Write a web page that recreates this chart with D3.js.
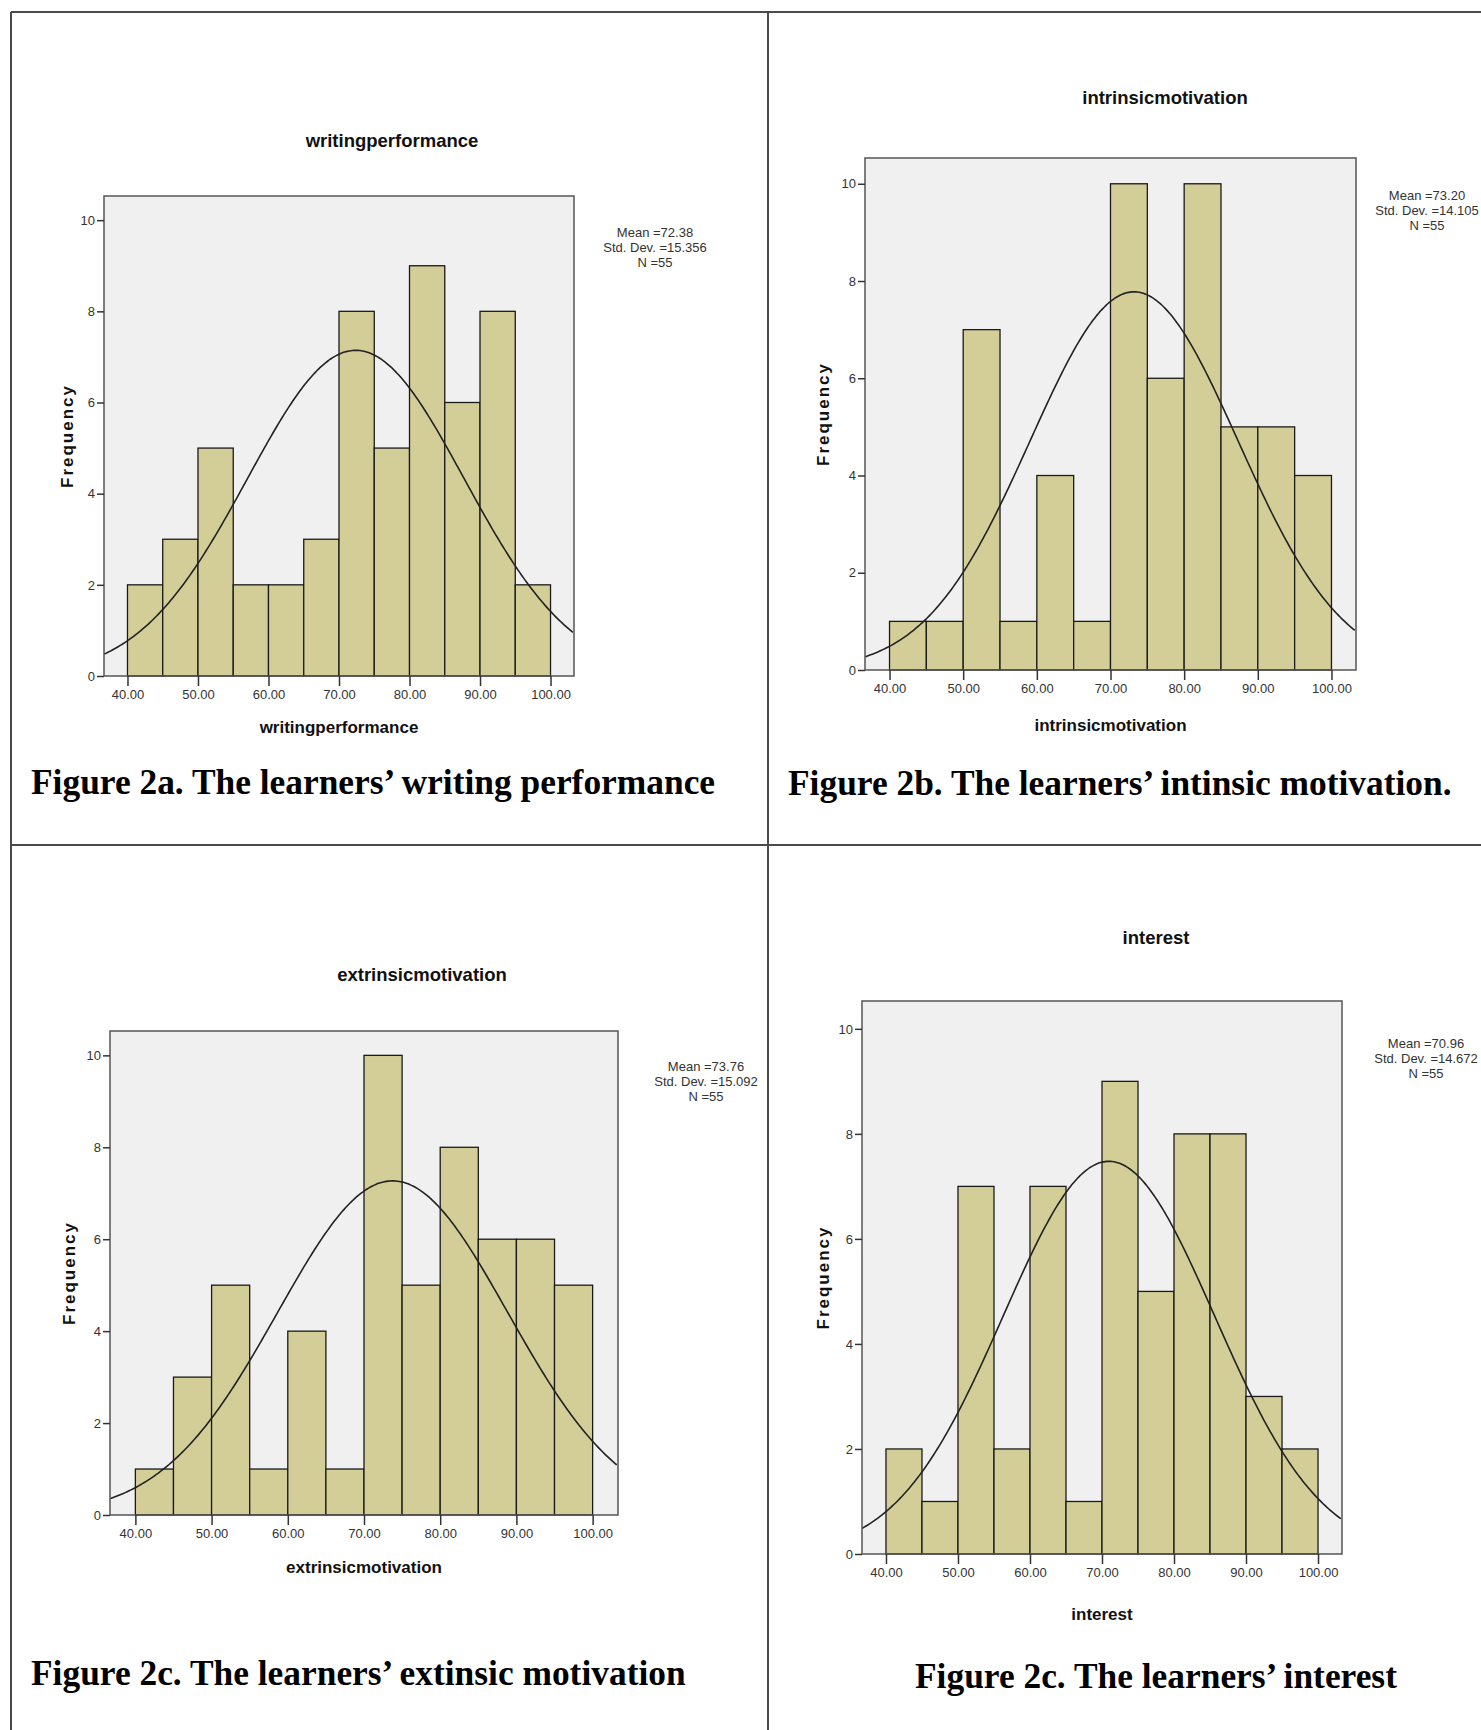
<!DOCTYPE html>
<html>
<head>
<meta charset="utf-8">
<script src="https://cdn.jsdelivr.net/npm/d3@7"></script>
<style>
  body { margin: 0; background: #fff; }
  svg { display: block; }
  .tick-label { font-family: "Liberation Sans", Arial, sans-serif; font-size: 13px; fill: #333; }
  .chart-title { font-family: "Liberation Sans", Arial, sans-serif; font-size: 18.5px; font-weight: bold; fill: #111; }
  .axis-title { font-family: "Liberation Sans", Arial, sans-serif; font-size: 17px; font-weight: bold; fill: #111; }
  .freq-title { font-family: "Liberation Sans", Arial, sans-serif; font-size: 17px; font-weight: bold; fill: #111; letter-spacing: 2px; }
  .stats { font-family: "Liberation Sans", Arial, sans-serif; font-size: 13px; fill: #333; }
  .caption { font-family: "Liberation Serif", "Times New Roman", serif; font-size: 35.4px; font-weight: bold; fill: #000; }
</style>
</head>
<body>
<div id="chart"></div>
<script>
var svgWidth = 1481;
var svgHeight = 1730;

// histogram bins (5 wide) and axis ticks
var binEdges = [40, 45, 50, 55, 60, 65, 70, 75, 80, 85, 90, 95, 100];
var xTicks = [40, 50, 60, 70, 80, 90, 100];
var yTicks = [0, 2, 4, 6, 8, 10];

// frequencies
var writingCounts   = [2, 3, 5, 2, 2, 3, 8, 5, 9, 6, 8, 2];
var intrinsicCounts = [1, 1, 7, 1, 4, 1, 10, 6, 10, 5, 5, 4];
var extrinsicCounts = [1, 3, 5, 1, 4, 1, 10, 5, 8, 6, 6, 5];
var interestCounts  = [2, 1, 7, 2, 7, 1, 9, 5, 8, 8, 3, 2];

var varNames = ["writingperformance", "intrinsicmotivation", "extrinsicmotivation", "interest"];
var means = [72.38, 73.20, 73.76, 70.96];
var stdDevs = [15.356, 14.105, 15.092, 14.672];
var sampleN = 55;
var captions = [
  "Figure 2a. The learners\u2019 writing performance",
  "Figure 2b. The learners\u2019 intinsic motivation.",
  "Figure 2c. The learners\u2019 extinsic motivation",
  "Figure 2c. The learners\u2019 interest"
];

// layout of each panel (pixel positions)
var layouts = [
  {left: 104, right: 574, top: 196, bottom: 676, titleX: 392, titleY: 147, xLabY: 733, freqX: 73, statsX: 655, statsY: 237, capX: 31, capY: 794},
  {left: 865, right: 1356, top: 158, bottom: 670, titleX: 1165, titleY: 104, xLabY: 731, freqX: 829, statsX: 1427, statsY: 200, capX: 788, capY: 795},
  {left: 110, right: 618, top: 1031, bottom: 1515, titleX: 422, titleY: 981, xLabY: 1573, freqX: 75, statsX: 706, statsY: 1071, capX: 31, capY: 1685},
  {left: 862, right: 1342, top: 1001, bottom: 1554, titleX: 1156, titleY: 944, xLabY: 1620, freqX: 829, statsX: 1426, statsY: 1048, capX: 915, capY: 1688}
];
var allCounts = [writingCounts, intrinsicCounts, extrinsicCounts, interestCounts];

var svg = d3.select("#chart")
  .append("svg")
  .attr("width", svgWidth)
  .attr("height", svgHeight);

// table frame
var frame = svg.append("g")
  .attr("stroke", "#4a4a4a")
  .attr("stroke-width", 2);
frame.append("line").attr("x1", 11).attr("x2", svgWidth + 5).attr("y1", 12).attr("y2", 12);
frame.append("line").attr("x1", 11).attr("x2", 11).attr("y1", 12).attr("y2", svgHeight + 5);
frame.append("line").attr("x1", 768).attr("x2", 768).attr("y1", 12).attr("y2", svgHeight + 5);
frame.append("line").attr("x1", 11).attr("x2", svgWidth + 5).attr("y1", 845).attr("y2", 845);

function normalPdf(x, mu, sigma) {
  return Math.exp(-0.5 * Math.pow((x - mu) / sigma, 2)) / (sigma * Math.sqrt(2 * Math.PI));
}

allCounts.forEach(function(counts, i) {
  var L = layouts[i];

  var xScale = d3.scaleLinear()
    .domain([36.67, 103.33])
    .range([L.left, L.right]);

  var yScale = d3.scaleLinear()
    .domain([0, 10.53])
    .range([L.bottom, L.top]);

  var g = svg.append("g");

  // plot background
  g.append("rect")
    .attr("x", L.left)
    .attr("y", L.top)
    .attr("width", L.right - L.left)
    .attr("height", L.bottom - L.top)
    .attr("fill", "#f0f0f0");

  // bars
  var bins = counts.map(function(c, j) {
    return {x0: binEdges[j], x1: binEdges[j + 1], count: c};
  });

  g.selectAll("rect.bar")
    .data(bins)
    .enter()
    .append("rect")
    .attr("class", "bar")
    .attr("x", d => xScale(d.x0))
    .attr("y", d => yScale(d.count))
    .attr("width", d => xScale(d.x1) - xScale(d.x0))
    .attr("height", d => yScale(0) - yScale(d.count))
    .attr("fill", "#d3ce97")
    .attr("stroke", "#1a1a1a")
    .attr("stroke-width", 1.3);

  // normal curve
  var clipId = "clip" + i;
  svg.append("clipPath").attr("id", clipId)
    .append("rect")
    .attr("x", L.left)
    .attr("y", L.top)
    .attr("width", L.right - L.left)
    .attr("height", L.bottom - L.top);

  var binWidth = 5;
  var curvePts = d3.range(36.67, 103.34, 0.25).map(function(x) {
    return [x, sampleN * binWidth * normalPdf(x, means[i], stdDevs[i])];
  });

  var line = d3.line()
    .x(d => xScale(d[0]))
    .y(d => yScale(d[1]))
    .curve(d3.curveBasis);

  g.append("path")
    .datum(curvePts)
    .attr("clip-path", "url(#" + clipId + ")")
    .attr("d", line)
    .attr("fill", "none")
    .attr("stroke", "#222")
    .attr("stroke-width", 1.6);

  // plot frame
  g.append("rect")
    .attr("x", L.left)
    .attr("y", L.top)
    .attr("width", L.right - L.left)
    .attr("height", L.bottom - L.top)
    .attr("fill", "none")
    .attr("stroke", "#555")
    .attr("stroke-width", 1.5);

  // axes
  var bottomAxis = d3.axisBottom(xScale)
    .tickValues(xTicks)
    .tickFormat(d3.format(".2f"))
    .tickSize(10)
    .tickPadding(4);

  var leftAxis = d3.axisLeft(yScale)
    .tickValues(yTicks)
    .tickFormat(d3.format("d"))
    .tickSize(7)
    .tickPadding(2);

  var xAxis = g.append("g")
    .attr("transform", `translate(0, ${L.bottom})`)
    .call(bottomAxis);

  var yAxis = g.append("g")
    .attr("transform", `translate(${L.left}, 0)`)
    .call(leftAxis);

  [xAxis, yAxis].forEach(function(ax) {
    ax.select(".domain").remove();
    ax.selectAll(".tick line").attr("stroke", "#333").attr("stroke-width", 1.5);
    ax.selectAll(".tick text")
      .attr("class", "tick-label")
      .attr("font-family", null)
      .attr("font-size", null);
    ax.attr("font-size", null).attr("font-family", null);
  });

  // titles
  g.append("text")
    .attr("class", "chart-title")
    .attr("x", L.titleX)
    .attr("y", L.titleY)
    .attr("text-anchor", "middle")
    .text(varNames[i]);

  g.append("text")
    .attr("class", "axis-title")
    .attr("x", (L.left + L.right) / 2)
    .attr("y", L.xLabY)
    .attr("text-anchor", "middle")
    .text(varNames[i]);

  g.append("text")
    .attr("class", "freq-title")
    .attr("transform", `translate(${L.freqX}, ${(L.top + L.bottom) / 2}) rotate(-90)`)
    .attr("text-anchor", "middle")
    .text("Frequency");

  // stats box
  var statsLines = [
    "Mean =" + means[i].toFixed(2),
    "Std. Dev. =" + stdDevs[i].toFixed(3),
    "N =" + sampleN
  ];
  g.selectAll("text.stats")
    .data(statsLines)
    .enter()
    .append("text")
    .attr("class", "stats")
    .attr("x", L.statsX)
    .attr("y", (d, k) => L.statsY + k * 15)
    .attr("text-anchor", "middle")
    .text(d => d);

  // figure caption
  g.append("text")
    .attr("class", "caption")
    .attr("x", L.capX)
    .attr("y", L.capY)
    .text(captions[i]);
});
</script>
</body>
</html>
